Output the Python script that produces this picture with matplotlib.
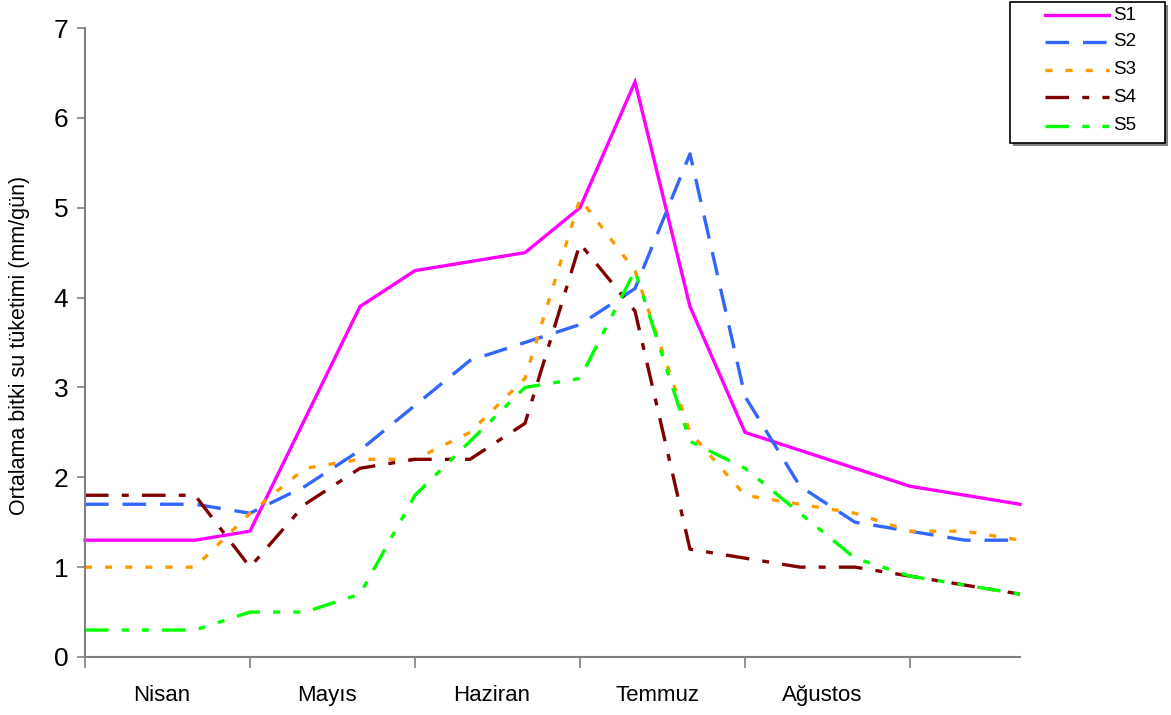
import matplotlib
matplotlib.use("Agg")
import matplotlib.pyplot as plt
from matplotlib.lines import Line2D
from matplotlib.patches import Rectangle
import numpy as np

plt.rcParams['font.family'] = ['Liberation Sans', 'DejaVu Sans']
plt.rcParams['lines.scale_dashes'] = False

# Ten-day periods from April to September
months = ["Nisan", "Mayıs", "Haziran", "Temmuz", "Ağustos"]
series_names = ["S1", "S2", "S3", "S4", "S5"]
s1 = [1.3, 1.3, 1.3, 1.4, 2.65, 3.9, 4.3, 4.4, 4.5, 5.0, 6.4, 3.9, 2.5, 2.3, 2.1, 1.9, 1.8, 1.7]
s2 = [1.7, 1.7, 1.7, 1.6, 1.9, 2.3, 2.8, 3.3, 3.5, 3.7, 4.1, 5.6, 2.9, 1.9, 1.5, 1.4, 1.3, 1.3]
s3 = [1.0, 1.0, 1.0, 1.6, 2.1, 2.2, 2.2, 2.5, 3.1, 5.1, 4.3, 2.5, 1.8, 1.7, 1.6, 1.4, 1.4, 1.3]
s4 = [1.8, 1.8, 1.8, 1.0, 1.7, 2.1, 2.2, 2.2, 2.6, 4.6, 3.85, 1.2, 1.1, 1.0, 1.0, 0.9, 0.8, 0.7]
s5 = [0.3, 0.3, 0.3, 0.5, 0.5, 0.7, 1.8, 2.4, 3.0, 3.1, 4.3, 2.4, 2.1, 1.6, 1.1, 0.9, 0.8, 0.7]
y_label = "Ortalama bitki su tüketimi (mm/gün)"

values = [s1, s2, s3, s4, s5]
colors = ["#FF00FF", "#3366FF", "#FF9900", "#800000", "#00FF00"]
styles = [
    "-",
    (0, (17, 10)),
    (0, (5, 9.5)),
    (0, (17, 9.5, 5, 9.5)),
    (0, (17, 9.5, 5, 9.5, 5, 9.5)),
]
lw = 2.4

fig = plt.figure(figsize=(11.71, 7.15), dpi=100)
W, H = 1171, 715
ax = fig.add_axes([85 / W, 1 - 657 / H, (1020 - 85) / W, (657 - 28) / H])

x = np.arange(len(s1))
for vals, c, ls in zip(values, colors, styles):
    ax.plot(x, vals, color=c, linestyle=ls, linewidth=lw,
            solid_joinstyle='miter', dash_capstyle='butt', clip_on=False)

ax.set_xlim(0, len(s1) - 1)
ax.set_ylim(0, 7)
ax.set_yticks(range(0, 8))
ax.tick_params(axis='y', labelsize=19, length=6, width=1.2, color='#808080', pad=6)

ax.set_xticks(np.arange(0, len(s1) - 1, 3))
ax.set_xticklabels([])
ax.set_xticks(np.arange(len(months)) * 3 + 1.4, minor=True)
ax.set_xticklabels(months, minor=True)
ax.tick_params(axis='x', which='major', length=8, width=1.2, color='#808080')
ax.tick_params(axis='x', which='minor', length=0, labelsize=16, pad=20)

for side in ['top', 'right']:
    ax.spines[side].set_visible(False)
for side in ['left', 'bottom']:
    ax.spines[side].set_color('#808080')
    ax.spines[side].set_linewidth(1.5)

fig.text(20 / W, 1 - 345 / H, y_label, rotation=90, fontsize=15.5,
         ha='center', va='center')

# Legend box with shadow
lx0, ly0, lx1, ly1 = 1010, 2, 1165, 143
shadow = Rectangle(((lx0 + 3) / W, 1 - (ly1 + 3) / H), (lx1 - lx0) / W, (ly1 - ly0) / H,
                   transform=fig.transFigure, facecolor='#808080', edgecolor='none')
box = Rectangle((lx0 / W, 1 - ly1 / H), (lx1 - lx0) / W, (ly1 - ly0) / H,
                transform=fig.transFigure, facecolor='white', edgecolor='black', linewidth=1.2)
fig.add_artist(shadow)
fig.add_artist(box)
row_y = [15, 42, 70, 97, 126]
for name, c, ls, ry in zip(series_names, colors, styles, row_y):
    fig.add_artist(Line2D([1045 / W, 1109 / W], [1 - ry / H, 1 - ry / H],
                          transform=fig.transFigure, color=c, linestyle=ls,
                          linewidth=lw, dash_capstyle='butt'))
    fig.text(1113 / W, 1 - ry / H, name, fontsize=13.5, ha='left', va='center')

fig.savefig("out.png", dpi=100)
